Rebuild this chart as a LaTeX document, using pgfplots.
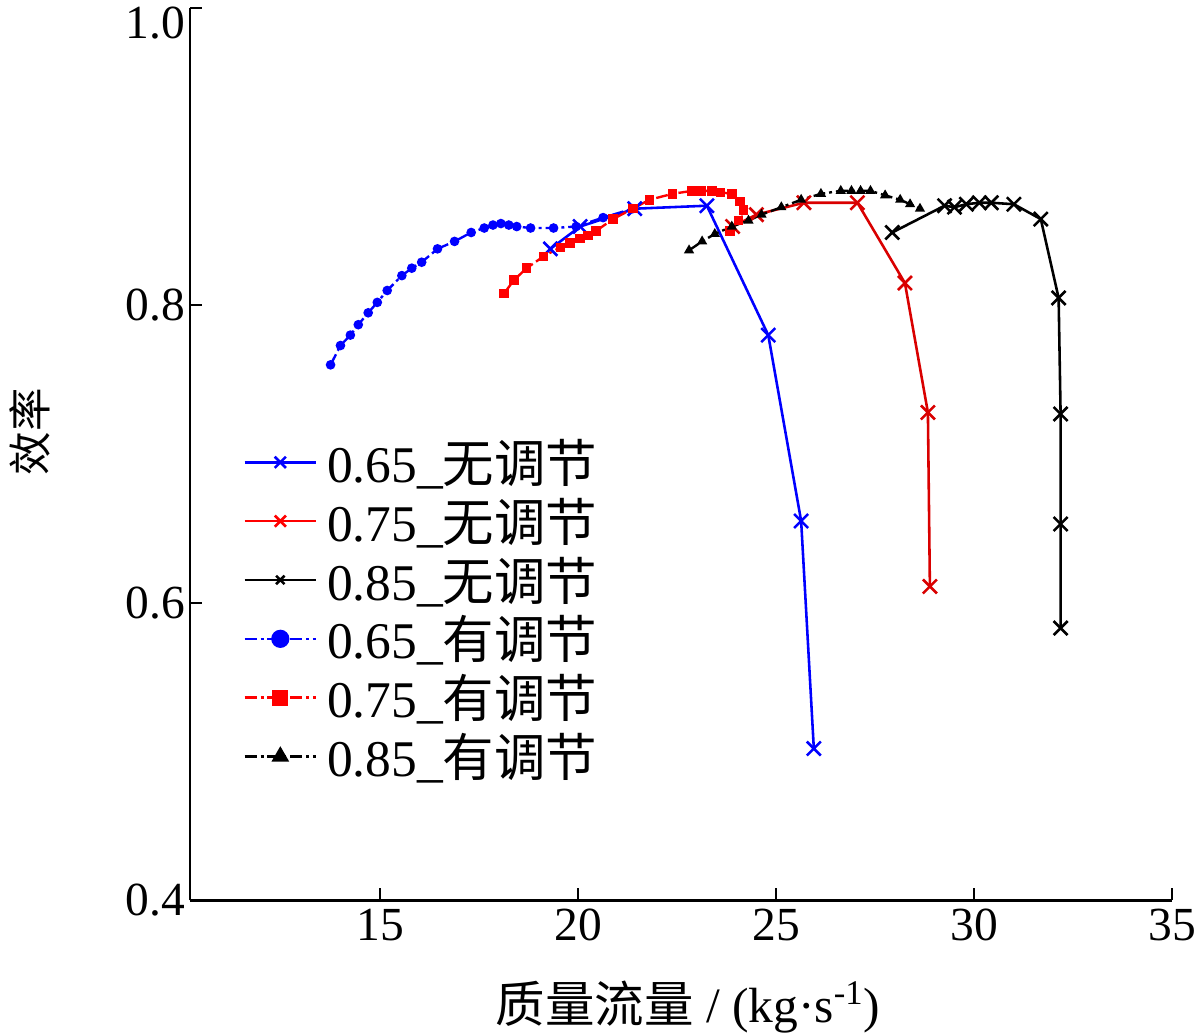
\documentclass[border=0pt]{standalone}
\usepackage{fontspec}
\setmainfont{Liberation Serif}
\newfontfamily\cjk{Noto Sans CJK SC}
\usepackage{pgfplots}
\pgfplotsset{compat=1.18}
\begin{document}
\begin{tikzpicture}
\begin{axis}[
  scale only axis,
  width=496.5pt, height=451pt,
  xmin=10.2, xmax=35, ymin=0.4, ymax=1.0,
  xtick={15,20,25,30,35},
  ytick={0.4,0.6,0.8},
  extra y ticks={1.0},
  extra y tick style={yticklabel style={anchor=north east, yshift=4pt}},
  yticklabel style={/pgf/number format/fixed, /pgf/number format/fixed zerofill, /pgf/number format/precision=1, xshift=1pt},
  /pgf/number format/assume math mode=true,
  tick align=inside,
  major tick length=6pt,
  axis x line*=bottom, axis y line*=left,
  axis line style={line width=1.3pt,-},
  tick style={line width=1pt, black},
  ticklabel style={font=\fontsize{24}{28}\selectfont},
  xticklabel style={yshift=-1pt},
  xlabel={{\cjk 质量流量} / (kg·s\textsuperscript{-1})},
  ylabel={\cjk 效率},
  xlabel style={font=\fontsize{25}{29}\selectfont, at={(axis description cs:0.507,-0.12)}, anchor=center},
  ylabel style={font=\fontsize{22}{26}\selectfont, at={(axis description cs:-0.163,0.525)}, anchor=center},
  legend style={at={(axis description cs:0.048,0.526)}, anchor=north west, draw=none, fill=none,
    font=\fontsize{26}{30}\selectfont, row sep=2.4pt},
  legend cell align=left,
  legend image code/.code={\draw[mark repeat=2,mark phase=2,#1] plot coordinates {(0pt,0pt) (18pt,0pt) (36pt,0pt)};},
]
% 0.65 no regulation
\addplot[blue, line width=1.3pt, mark=x, mark size=5pt, mark options={solid, line width=1.3pt}, legend image post style={mark size=4pt}] coordinates {
(19.3,0.838) (20.05,0.853) (21.43,0.865) (23.25,0.867) (24.8,0.78) (25.63,0.655) (25.95,0.502)};
\addlegendentry{\hspace*{3pt}0.65\_{\cjk 无调节}}
% 0.75 no regulation
\addplot[red!85!black, line width=1.3pt, mark=x, mark size=5pt, mark options={solid, line width=1.3pt}, legend image post style={red, mark size=4pt}] coordinates {
(23.9,0.853) (24.5,0.861) (25.7,0.869) (27.05,0.869) (28.25,0.815) (28.83,0.728) (28.88,0.611)};
\addlegendentry{\hspace*{3pt}0.75\_{\cjk 无调节}}
% 0.85 no regulation
\addplot[black, line width=1.3pt, mark=x, mark size=5pt, mark options={solid, line width=1.3pt}, legend image post style={mark size=3pt}] coordinates {
(27.93,0.849) (29.25,0.867) (29.5,0.866) (29.8,0.868) (30.13,0.869) (30.43,0.869) (31.0,0.868) (31.68,0.858) (32.13,0.805) (32.18,0.727) (32.18,0.653) (32.18,0.583)};
\addlegendentry{\hspace*{3pt}0.85\_{\cjk 无调节}}
% 0.65 regulation
\addplot[blue, line width=1.2pt, dash pattern=on 6pt off 2pt on 1.5pt off 2pt, mark=*, mark size=1.8pt, mark options={solid}, legend image post style={mark size=4pt}] coordinates {
(13.75,0.760) (14.0,0.773) (14.25,0.780) (14.45,0.787) (14.7,0.795) (14.93,0.802) (15.18,0.810) (15.55,0.820) (15.8,0.825) (16.05,0.829) (16.45,0.838) (16.88,0.843) (17.3,0.849) (17.63,0.852) (17.85,0.854) (18.05,0.855) (18.25,0.854) (18.45,0.853) (18.8,0.852) (19.38,0.852) (19.95,0.853) (20.63,0.859) (21.38,0.865)};
\addlegendentry{\hspace*{3pt}0.65\_{\cjk 有调节}}
% 0.75 regulation
\addplot[red, line width=1.2pt, dash pattern=on 6pt off 2pt on 1.5pt off 2pt, mark=square*, mark size=1.8pt, mark options={solid}, legend image post style={mark size=3.5pt}] coordinates {
(18.13,0.808) (18.38,0.817) (18.7,0.825) (19.13,0.833) (19.55,0.839) (19.8,0.842) (20.05,0.845) (20.25,0.847) (20.45,0.850) (20.88,0.858) (21.38,0.865) (21.8,0.871) (22.38,0.875) (22.88,0.877) (23.1,0.877) (23.38,0.877) (23.6,0.876) (23.88,0.875) (24.08,0.870) (24.18,0.864) (24.05,0.857) (23.83,0.850)};
\addlegendentry{\hspace*{3pt}0.75\_{\cjk 有调节}}
% 0.85 regulation
\addplot[black, line width=1.2pt, dash pattern=on 6pt off 2pt on 1.5pt off 2pt, mark=triangle*, mark size=1.8pt, mark options={solid}, legend image post style={mark size=4pt}] coordinates {
(22.8,0.837) (23.13,0.843) (23.45,0.848) (23.88,0.853) (24.3,0.857) (24.63,0.861) (25.13,0.866) (25.63,0.871) (26.13,0.875) (26.63,0.877) (26.9,0.877) (27.13,0.877) (27.38,0.877) (27.75,0.874) (28.13,0.871) (28.38,0.868) (28.63,0.865)};
\addlegendentry{\hspace*{3pt}0.85\_{\cjk 有调节}}
\end{axis}
\pgfresetboundingbox
\path[use as bounding box] ([xshift=-96pt,yshift=-67.5pt]current axis.south west) rectangle ([xshift=14pt,yshift=4pt]current axis.north east);
\end{tikzpicture}
\end{document}
